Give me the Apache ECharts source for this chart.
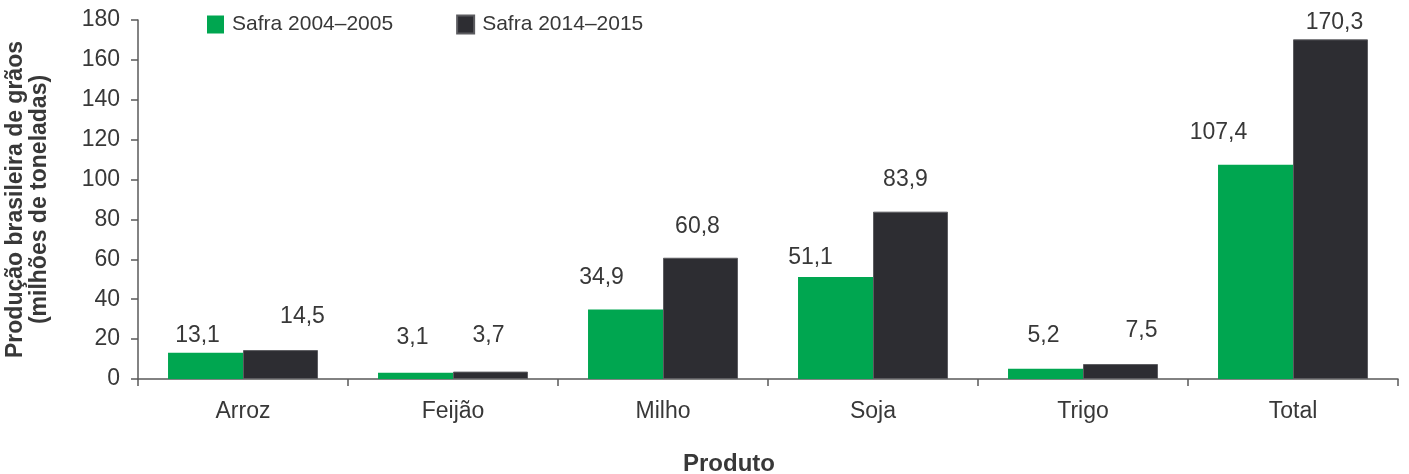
<!DOCTYPE html>
<html>
<head>
<meta charset="utf-8">
<script src="https://cdn.jsdelivr.net/npm/echarts@6/dist/echarts.min.js"></script>
<style>
html,body{margin:0;padding:0;background:#fff;}
#chart{width:1409px;height:474px;}
</style>
</head>
<body>
<div id="chart"></div>
<script>
// ---- data ----
const categories = ['Arroz', 'Feijão', 'Milho', 'Soja', 'Trigo', 'Total'];
const seriesNames = ['Safra 2004–2005', 'Safra 2014–2015'];
const safra2004_2005 = [13.1, 3.1, 34.9, 51.1, 5.2, 107.4];
const safra2014_2015 = [14.5, 3.7, 60.8, 83.9, 7.5, 170.3];
const yTicks = [0, 20, 40, 60, 80, 100, 120, 140, 160, 180];

// ---- label nudges (relative to the library's own label position) ----
const labelShiftX1 = [-8, -3, -24, -25, -2, -37];
const labelGap1    = [6, 24, 20, 8, 21, 21];
const labelShiftX2 = [22, -2, -3, -5, 21, 4];
const labelGap2    = [22, 24, 20, 21, 22, 5];

const FONT = '"Liberation Sans", Arial, Helvetica, sans-serif';
const TXT = '#383838';
const GREEN = '#00a650';
const DARK = '#2d2d32';

function fmt(v) { return v.toFixed(1).replace('.', ','); }

function items(values, shifts, gaps) {
  return values.map((v, i) => ({
    value: v,
    label: { offset: [shifts[i], -gaps[i]] }
  }));
}

const chart = echarts.init(document.getElementById('chart'), null, { renderer: 'canvas' });

const labelCommon = {
  show: true,
  position: 'top',
  distance: 0,
  fontFamily: FONT,
  fontSize: 23,
  color: TXT,
  formatter: p => fmt(p.value)
};

chart.setOption({
  animation: false,
  backgroundColor: '#ffffff',
  textStyle: { fontFamily: FONT },
  grid: { left: 138, right: 11, top: 20, bottom: 95, containLabel: false, outerBoundsMode: 'none' },
  legend: {
    left: 202,
    top: 9,
    itemWidth: 17,
    itemHeight: 18,
    itemGap: 63,
    icon: 'rect',
    data: seriesNames,
    textStyle: { fontFamily: FONT, fontSize: 21, color: TXT, padding: [0, 0, 0, 3] }
  },
  xAxis: {
    type: 'category',
    data: categories,
    name: 'Produto',
    nameLocation: 'middle',
    nameGap: 73,
    nameTextStyle: { fontFamily: FONT, fontSize: 24, fontWeight: 'bold', color: TXT, padding: [0, 78, 0, 0] },
    axisLine: { show: true, lineStyle: { color: '#5a5a5a', width: 1.5 } },
    axisTick: { show: true, length: 7, alignWithLabel: false, lineStyle: { color: '#5a5a5a', width: 1.5 } },
    axisLabel: { fontFamily: FONT, fontSize: 23, color: TXT, margin: 21 },
    splitLine: { show: false }
  },
  yAxis: {
    type: 'value',
    min: yTicks[0],
    max: yTicks[yTicks.length - 1],
    interval: yTicks[1] - yTicks[0],
    name: 'Produção brasileira de grãos\n(milhões de toneladas)',
    nameLocation: 'middle',
    nameRotate: 90,
    nameGap: 86,
    nameTextStyle: { fontFamily: FONT, fontSize: 23, lineHeight: 24, fontWeight: 'bold', color: TXT, align: 'center' },
    axisLine: { show: true, lineStyle: { color: '#5a5a5a', width: 1.5 } },
    axisTick: { show: true, length: 7, lineStyle: { color: '#5a5a5a', width: 1.5 } },
    axisLabel: { fontFamily: FONT, fontSize: 23, color: TXT, margin: 18 },
    splitLine: { show: false }
  },
  series: [
    {
      name: seriesNames[0],
      type: 'bar',
      barGap: '0%',
      barCategoryGap: '28.6%',
      itemStyle: { color: GREEN },
      label: labelCommon,
      data: items(safra2004_2005, labelShiftX1, labelGap1)
    },
    {
      name: seriesNames[1],
      type: 'bar',
      barGap: '0%',
      barCategoryGap: '28.6%',
      itemStyle: { color: DARK, borderColor: '#5c5c60', borderWidth: 1 },
      label: labelCommon,
      data: items(safra2014_2015, labelShiftX2, labelGap2)
    }
  ]
});
</script>
</body>
</html>
